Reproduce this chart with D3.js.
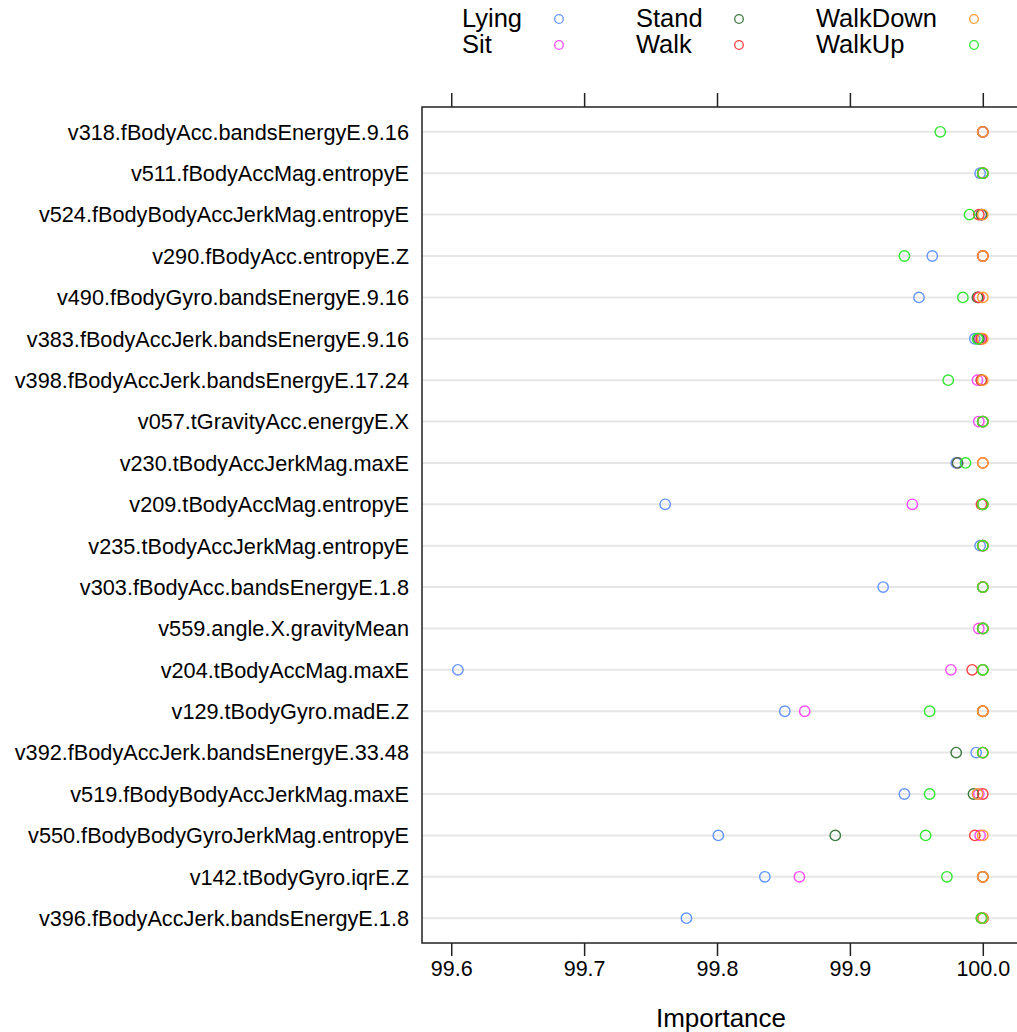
<!DOCTYPE html>
<html>
<head>
<meta charset="utf-8">
<script src="https://cdn.jsdelivr.net/npm/d3@7"></script>
<style>
  body { margin: 0; background: #fff; }
  text { font-family: "Liberation Sans", Arial, sans-serif; fill: #000; }
</style>
</head>
<body>
<script>
'use strict';
// feature names, top to bottom
const features = [
  "v318.fBodyAcc.bandsEnergyE.9.16", "v511.fBodyAccMag.entropyE",
  "v524.fBodyBodyAccJerkMag.entropyE", "v290.fBodyAcc.entropyE.Z",
  "v490.fBodyGyro.bandsEnergyE.9.16", "v383.fBodyAccJerk.bandsEnergyE.9.16",
  "v398.fBodyAccJerk.bandsEnergyE.17.24", "v057.tGravityAcc.energyE.X",
  "v230.tBodyAccJerkMag.maxE", "v209.tBodyAccMag.entropyE",
  "v235.tBodyAccJerkMag.entropyE", "v303.fBodyAcc.bandsEnergyE.1.8",
  "v559.angle.X.gravityMean", "v204.tBodyAccMag.maxE",
  "v129.tBodyGyro.madE.Z", "v392.fBodyAccJerk.bandsEnergyE.33.48",
  "v519.fBodyBodyAccJerkMag.maxE", "v550.fBodyBodyGyroJerkMag.entropyE",
  "v142.tBodyGyro.iqrE.Z", "v396.fBodyAccJerk.bandsEnergyE.1.8"
];
const classes = ["Lying", "Sit", "Stand", "Walk", "WalkDown", "WalkUp"];
const classColors = ["#6495ff", "#ff4cff", "#3d7a3d", "#ff3f3f", "#ff9933", "#33e633"];

// importance per class, same order as features
const lying = [100, 99.998, 99.999, 99.962, 99.952, 99.994, 99.999, 100, 99.980, 99.761,
  99.998, 99.925, 100, 99.605, 99.851, 99.995, 99.941, 99.801, 99.836, 99.777];
const sit = [100, 100, 99.999, 100, 99.997, 99.998, 99.996, 99.997, 99.981, 99.947,
  100, 100, 99.997, 99.976, 99.866, 100, 99.997, 99.998, 99.862, 100];
const stand = [100, 100, 99.999, 100, 99.996, 99.997, 99.999, 100, 99.981, 100,
  100, 100, 100, 100, 100, 99.980, 99.993, 99.889, 100, 100];
const walk = [100, 100, 99.997, 100, 99.997, 99.999, 99.999, 100, 100, 99.999,
  100, 100, 100, 99.992, 100, 100, 100, 99.994, 100, 99.999];
const walkDown = [100, 100, 100, 100, 100, 100, 100, 100, 100, 100,
  100, 100, 100, 100, 100, 100, 99.996, 100, 100, 100];
const walkUp = [99.968, 100, 99.990, 99.941, 99.985, 99.996, 99.974, 100, 99.987, 100,
  100, 100, 100, 100, 99.960, 100, 99.960, 99.957, 99.973, 99.999];
const seriesValues = [lying, sit, stand, walk, walkDown, walkUp];

const xTicks = [99.6, 99.7, 99.8, 99.9, 100.0];

const width = 1017, height = 1032;
const panel = { left: 422, right: 1020, top: 107, bottom: 943 };

const svg = d3.select('body').append('svg')
  .attr('width', width)
  .attr('height', height);

const xScale = d3.scaleLinear()
  .domain([99.578, 100.028])
  .range([panel.left, panel.right]);

// rows as 1..20 with lattice-like padding
const yScale = d3.scaleLinear()
  .domain([0.4, 20.6])
  .range([panel.top, panel.bottom]);

// grid lines
svg.append('g').selectAll('line')
  .data(features)
  .enter().append('line')
    .attr('x1', panel.left).attr('x2', panel.right)
    .attr('y1', (d, i) => yScale(i + 1)).attr('y2', (d, i) => yScale(i + 1))
    .attr('stroke', '#e6e6e6').attr('stroke-width', 2);

// feature labels
svg.append('g').selectAll('text')
  .data(features)
  .enter().append('text')
    .attr('x', 409)
    .attr('y', (d, i) => yScale(i + 1))
    .attr('dy', '0.36em')
    .attr('text-anchor', 'end')
    .style('font-size', '21.7px')
    .text(d => d);

// points, one class at a time
seriesValues.forEach((vals, k) => {
  svg.append('g').selectAll('circle')
    .data(vals)
    .enter().append('circle')
      .attr('cx', d => xScale(d))
      .attr('cy', (d, i) => yScale(i + 1))
      .attr('r', 5.2)
      .attr('fill', 'none')
      .attr('stroke', classColors[k])
      .attr('stroke-width', 1.4);
});

// panel frame
svg.append('rect')
  .attr('x', panel.left).attr('y', panel.top)
  .attr('width', panel.right - panel.left).attr('height', panel.bottom - panel.top)
  .attr('fill', 'none').attr('stroke', '#222').attr('stroke-width', 1.5);

// axes top and bottom
const bottomAxis = d3.axisBottom(xScale).tickValues(xTicks)
  .tickFormat(d3.format('.1f')).tickSize(13).tickPadding(5);
const gb = svg.append('g')
  .attr('transform', 'translate(0,' + panel.bottom + ')')
  .call(bottomAxis);
gb.select('.domain').remove();
gb.selectAll('line').attr('stroke', '#222').attr('stroke-width', 1.5);
gb.selectAll('text').style('font-size', '21.5px').attr('font-family', null);

const topAxis = d3.axisTop(xScale).tickValues(xTicks).tickSize(14).tickFormat('');
const gt = svg.append('g')
  .attr('transform', 'translate(0,' + panel.top + ')')
  .call(topAxis);
gt.select('.domain').remove();
gt.selectAll('line').attr('stroke', '#222').attr('stroke-width', 1.5);

// x label
svg.append('text')
  .attr('x', 721).attr('y', 1027)
  .attr('text-anchor', 'middle')
  .style('font-size', '26px')
  .text('Importance');

// legend, three columns of two
const legendX = [462, 636, 816];
const legendDotX = [559, 739, 974];
const legendY = [19, 45];
const legend = svg.append('g');
classes.forEach((c, k) => {
  const col = Math.floor(k / 2), row = k % 2;
  legend.append('text')
    .attr('x', legendX[col])
    .attr('y', legendY[row] + 8)
    .style('font-size', '25.5px')
    .text(c);
  legend.append('circle')
    .attr('cx', legendDotX[col])
    .attr('cy', legendY[row])
    .attr('r', 4.3)
    .attr('fill', 'none')
    .attr('stroke', classColors[k])
    .attr('stroke-width', 1.3);
});
</script>
</body>
</html>
